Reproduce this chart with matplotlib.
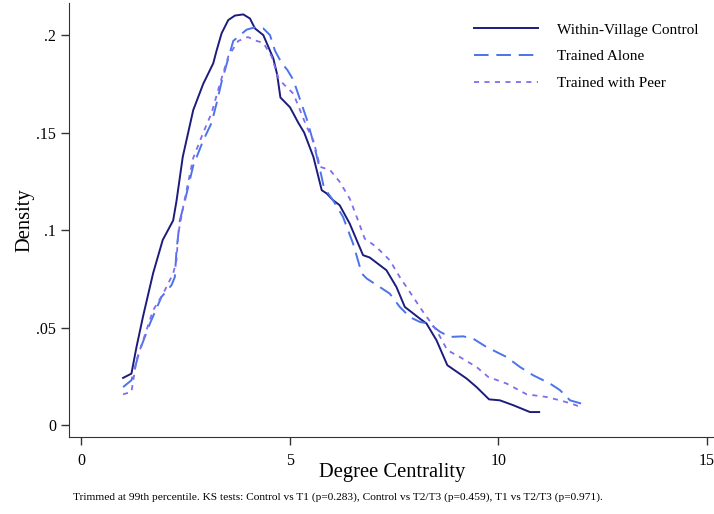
import matplotlib
matplotlib.use("Agg")
import matplotlib.pyplot as plt
from matplotlib.ticker import FuncFormatter

plt.rcParams["font.family"] = ["Liberation Serif", "DejaVu Serif"]

# kernel density curves
control_x = [1.01, 1.21, 1.33, 1.49, 1.73, 1.96, 2.21, 2.29, 2.44, 2.69, 2.93, 3.17,
             3.25, 3.37, 3.53, 3.69, 3.89, 4.05, 4.17, 4.37, 4.61, 4.70, 4.78, 5.01,
             5.21, 5.35, 5.57, 5.77, 5.89, 6.04, 6.20, 6.44, 6.76, 6.92, 7.32, 7.56,
             7.76, 8.12, 8.28, 8.52, 8.78, 9.24, 9.48, 9.78, 10.04, 10.36, 10.76, 10.98]
control_y = [0.0243, 0.0265, 0.040, 0.056, 0.078, 0.095, 0.105, 0.115, 0.1376, 0.1615,
             0.175, 0.1855, 0.192, 0.2009, 0.2077, 0.210, 0.2106, 0.2085, 0.2034, 0.200,
             0.188, 0.180, 0.168, 0.163, 0.155, 0.150, 0.1376, 0.1205, 0.1188, 0.1154,
             0.1128, 0.1034, 0.0872, 0.086, 0.0795, 0.0709, 0.0607, 0.0547, 0.0522,
             0.0436, 0.0308, 0.024, 0.0196, 0.0133, 0.0128, 0.0103, 0.0068, 0.0068]

alone_x = [1.01, 1.21, 1.41, 1.65, 1.93, 2.17, 2.25, 2.29, 2.37, 2.49, 2.69, 2.93,
           3.13, 3.25, 3.37, 3.53, 3.65, 3.97, 4.17, 4.37, 4.53, 4.65, 4.80, 4.95,
           5.09, 5.25, 5.41, 5.57, 5.73, 5.82, 6.04, 6.28, 6.52, 6.73, 6.85, 7.16,
           7.40, 7.64, 7.88, 8.12, 8.36, 8.60, 8.84, 9.16, 9.40, 9.72, 10.20, 10.52,
           10.84, 11.24, 11.48, 11.72, 12.0]
alone_y = [0.0196, 0.0231, 0.0385, 0.052, 0.0658, 0.0718, 0.076, 0.0897, 0.105, 0.115,
           0.133, 0.146, 0.155, 0.165, 0.176, 0.188, 0.197, 0.2028, 0.2040, 0.2034,
           0.200, 0.192, 0.186, 0.182, 0.177, 0.167, 0.157, 0.145, 0.131, 0.122,
           0.1154, 0.1068, 0.0932, 0.0778, 0.0752, 0.0709, 0.0675, 0.0607, 0.0555,
           0.053, 0.052, 0.048, 0.0453, 0.0456, 0.0444, 0.0401, 0.035, 0.0299, 0.0256,
           0.0214, 0.018, 0.0128, 0.0111]

peer_x = [1.01, 1.21, 1.33, 1.49, 1.73, 1.97, 2.21, 2.29, 2.33, 2.45, 2.69, 2.93,
          3.13, 3.33, 3.53, 3.77, 4.00, 4.21, 4.37, 4.57, 4.73, 4.85, 5.09, 5.25,
          5.41, 5.57, 5.73, 5.97, 6.20, 6.44, 6.64, 6.80, 7.08, 7.40, 7.64, 7.96,
          8.20, 8.52, 8.78, 9.08, 9.48, 9.76, 10.20, 10.68, 11.16, 11.48, 11.76, 12.0]
peer_y = [0.0159, 0.0171, 0.0333, 0.0436, 0.059, 0.0675, 0.0778, 0.0846, 0.098, 0.112,
          0.137, 0.150, 0.160, 0.175, 0.189, 0.197, 0.199, 0.197, 0.196, 0.189, 0.178,
          0.175, 0.170, 0.1615, 0.153, 0.146, 0.1325, 0.1308, 0.1248, 0.1162, 0.105,
          0.0957, 0.0914, 0.0846, 0.076, 0.0658, 0.0581, 0.0487, 0.0385, 0.035, 0.0299,
          0.0248, 0.0214, 0.0159, 0.0145, 0.0128, 0.0111, 0.0091]

labels = ["Within-Village Control", "Trained Alone", "Trained with Peer"]
x_ticks = [0, 5, 10, 15]
y_ticks = [0, 0.05, 0.1, 0.15, 0.2]
note = ("Trimmed at 99th percentile. KS tests: Control vs T1 (p=0.283), "
        "Control vs T2/T3 (p=0.459), T1 vs T2/T3 (p=0.971).")

fig = plt.figure(figsize=(7.14, 5.14), dpi=100)
ax = fig.add_axes([0.097, 0.149, 0.903, 0.845])

ax.plot(control_x, control_y, color="#1c1c7c", lw=1.4, label=labels[0])
ax.plot(alone_x, alone_y, color="#4a74e8", lw=1.4, dashes=(7.5, 4.0), label=labels[1])
ax.plot(peer_x, peer_y, color="#7f6cf0", lw=1.3, dashes=(2.8, 3.0), label=labels[2])

ax.set_xlim(-0.28, 15.17)
ax.set_ylim(-0.0062, 0.2164)
ax.set_xticks(x_ticks)
ax.set_yticks(y_ticks)


def strip_zero(v, pos):
    s = f"{v:g}"
    return s[1:] if s.startswith("0.") else s


ax.yaxis.set_major_formatter(FuncFormatter(strip_zero))
ax.tick_params(direction="out", length=6, width=1, colors="#333333",
               labelsize=11.5, labelcolor="black")
ax.tick_params(axis="x", pad=5)
for side in ["top", "right"]:
    ax.spines[side].set_visible(False)
for side in ["left", "bottom"]:
    ax.spines[side].set_color("#333333")

ax.set_xlabel("Degree Centrality", fontsize=14.8, labelpad=-4)
ax.set_ylabel("Density", fontsize=14.8, labelpad=1)

ax.legend(loc="upper left", bbox_to_anchor=(474 / 714, 1 - 23 / 514),
          bbox_transform=fig.transFigure, frameon=False, fontsize=11,
          handlelength=4.19, handletextpad=1.24, borderpad=0, borderaxespad=0,
          labelspacing=0.85)

fig.text(73 / 714, 1 - 500 / 514, note, fontsize=8.2, ha="left", va="baseline")

fig.savefig("out.png", dpi=100)
